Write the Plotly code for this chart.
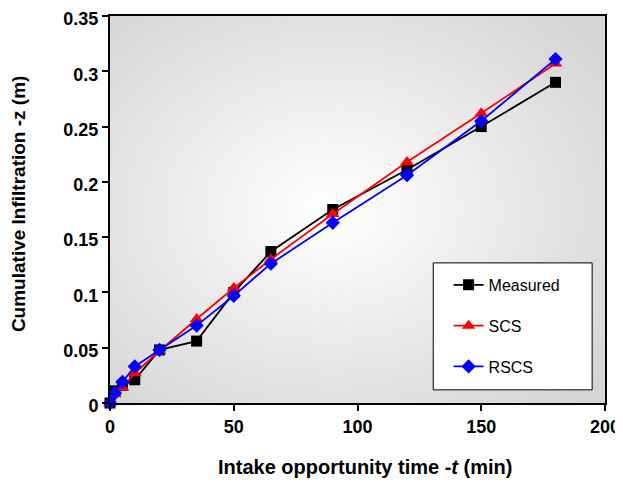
import base64
import plotly.graph_objects as go

# ---- data ----
time_min = [0, 2, 5, 10, 20, 35, 50, 65, 90, 120, 150, 180]
measured = [0.000, 0.011, 0.016, 0.021, 0.048, 0.056, 0.100, 0.137, 0.175, 0.211, 0.250, 0.290]
scs = [0.000, 0.008, 0.014, 0.027, 0.047, 0.076, 0.104, 0.130, 0.171, 0.218, 0.262, 0.307]
rscs = [0.000, 0.009, 0.019, 0.033, 0.048, 0.070, 0.097, 0.126, 0.163, 0.206, 0.255, 0.311]

x_ticks = [0, 50, 100, 150, 200]
y_ticks = [0, 0.05, 0.1, 0.15, 0.2, 0.25, 0.3, 0.35]
y_tick_labels = ["0", "0.05", "0.1", "0.15", "0.2", "0.25", "0.3", "0.35"]

x_title = "<b>Intake opportunity time -<i>t</i> (min)</b>"
y_title = "<b>Cumulative Infiltration -z (m)</b>"

FONT = "Liberation Sans, Arial, sans-serif"

# radial gradient background for plot area
svg = (
    '<svg xmlns="http://www.w3.org/2000/svg" width="500" height="400" preserveAspectRatio="none">'
    '<defs><radialGradient id="g" cx="45%" cy="50%" r="70%">'
    '<stop offset="0%" stop-color="#ffffff"/>'
    '<stop offset="100%" stop-color="#d4d4d4"/>'
    '</radialGradient></defs>'
    '<rect width="500" height="400" fill="url(#g)"/></svg>'
)
bg_src = "data:image/svg+xml;base64," + base64.b64encode(svg.encode()).decode()

fig = go.Figure()
fig.add_trace(go.Scatter(
    x=time_min, y=measured, name="Measured", mode="lines+markers",
    line=dict(color="black", width=1.8),
    marker=dict(symbol="square", size=11, color="black"),
    legendgroup="a", cliponaxis=False,
))
fig.add_trace(go.Scatter(
    x=time_min, y=scs, name="SCS", mode="lines+markers",
    line=dict(color="red", width=1.8),
    marker=dict(symbol="triangle-up", size=12, color="red"),
    legendgroup="b", cliponaxis=False,
))
fig.add_trace(go.Scatter(
    x=time_min, y=rscs, name="RSCS", mode="lines+markers",
    line=dict(color="blue", width=1.8),
    marker=dict(symbol="diamond", size=11, color="blue"),
    legendgroup="c", cliponaxis=False,
))

# figure is drawn 8px in from the page corner (default body margin)
fig.update_layout(
    width=615, height=477,
    margin=dict(l=102, r=18, t=8, b=82),
    paper_bgcolor="white",
    plot_bgcolor="#e0e0e0",
    font=dict(family=FONT, size=16, color="black"),
    images=[dict(source=bg_src, xref="paper", yref="paper", x=0, y=1,
                 sizex=1, sizey=1, sizing="stretch", layer="below",
                 xanchor="left", yanchor="top")],
    legend=dict(
        x=0.684, y=0.349, xanchor="left", yanchor="top",
        bgcolor="rgba(0,0,0,0)", borderwidth=0,
        font=dict(family=FONT, size=16, color="black"),
        tracegroupgap=17, traceorder="grouped",
    ),
    shapes=[dict(type="rect", xref="paper", yref="paper",
                 x0=0.653, x1=0.974, y0=0.034, y1=0.362,
                 line=dict(color="black", width=1), fillcolor="white",
                 layer="below")],
    annotations=[
        dict(text=x_title, xref="paper", yref="paper", x=0.515, y=-0.165,
             xanchor="center", yanchor="middle", showarrow=False,
             font=dict(family=FONT, size=20, color="black")),
        dict(text=y_title, xref="paper", yref="paper", x=-0.185, y=0.515,
             xanchor="center", yanchor="middle", showarrow=False, textangle=-90,
             font=dict(family=FONT, size=19, color="black")),
    ],
    showlegend=True,
)

fig.update_xaxes(
    range=[0, 200], tickvals=x_ticks, ticks="outside", ticklen=6, tickwidth=2,
    tickcolor="black", showline=True, linecolor="black", linewidth=2, mirror=True,
    showgrid=False, zeroline=False, automargin=False, ticklabeloverflow="allow",
    tickfont=dict(family=FONT, size=18, color="black", weight="bold"),
)
fig.update_yaxes(
    range=[0, 0.35], tickvals=y_ticks, ticktext=y_tick_labels, ticks="outside",
    ticklen=6, tickwidth=2, tickcolor="black", showline=True, linecolor="black",
    linewidth=2, mirror=True, showgrid=False, zeroline=False, automargin=False,
    ticklabeloverflow="allow", ticklabelshift=3,
    tickfont=dict(family=FONT, size=18, color="black", weight="bold"),
)

fig.write_html("out.html")
